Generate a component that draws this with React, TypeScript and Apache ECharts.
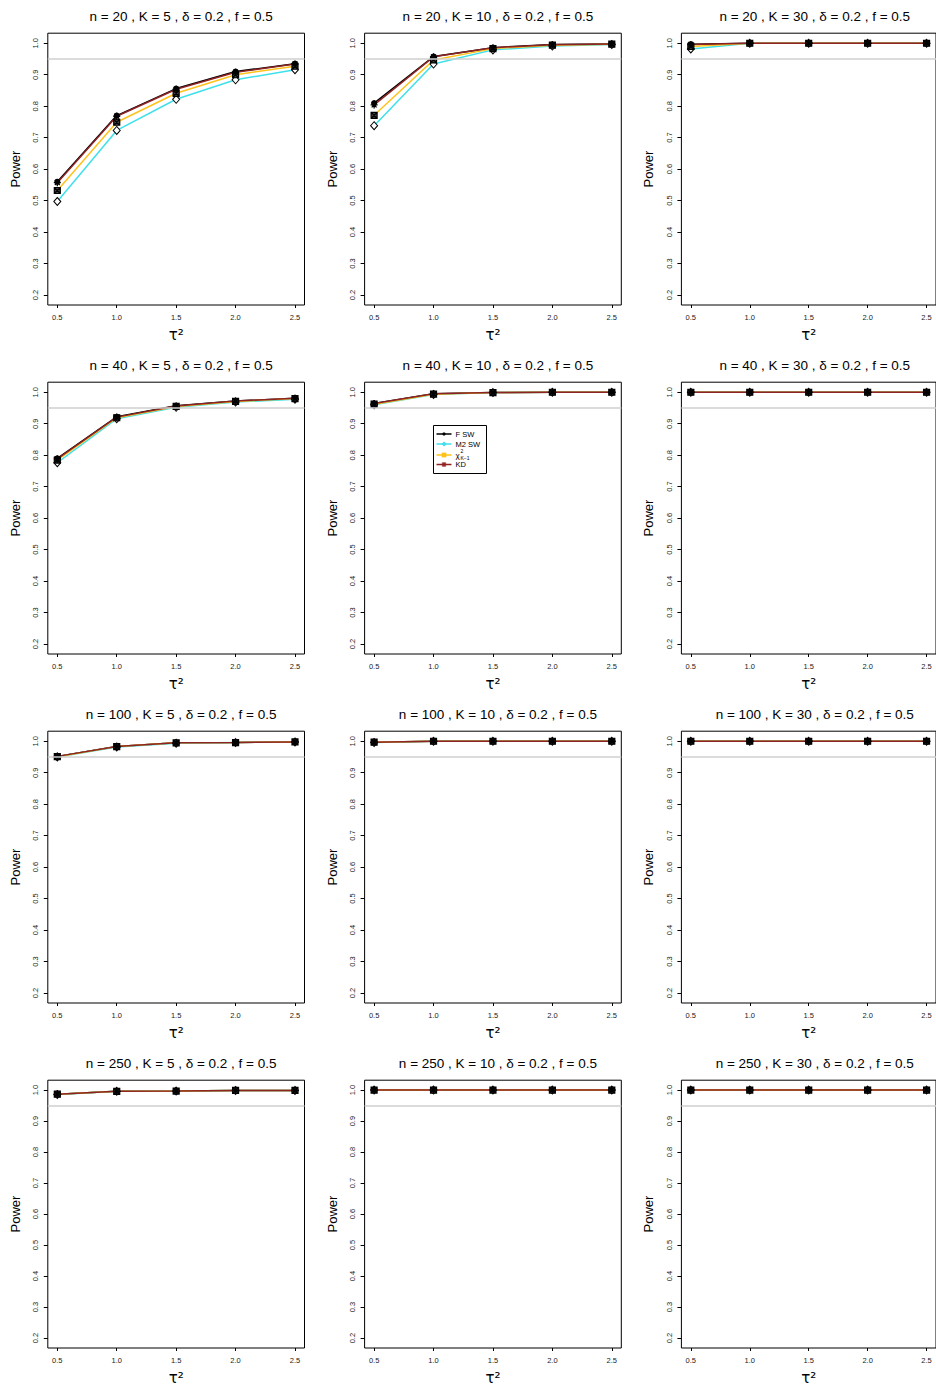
import React, { useEffect, useRef } from "react";
import * as echarts from "echarts";

const tau = [0.5, 1.0, 1.5, 2.0, 2.5];
const nValues = [20, 40, 100, 250];
const kValues = [5, 10, 30];
const yTicks = [0.2, 0.3, 0.4, 0.5, 0.6, 0.7, 0.8, 0.9, 1.0];
const xTicks = [0.5, 1.0, 1.5, 2.0, 2.5];
const refLevel = 0.95;

// rows of each array follow panels: (n=20,K=5),(20,10),(20,30),(40,5),...
const fSW = [
  [0.560, 0.770, 0.856, 0.910, 0.935],
  [0.810, 0.958, 0.986, 0.996, 0.998],
  [0.997, 1.0, 1.0, 1.0, 1.0],
  [0.790, 0.922, 0.957, 0.972, 0.981],
  [0.964, 0.995, 0.999, 1.0, 1.0],
  [1.0, 1.0, 1.0, 1.0, 1.0],
  [0.952, 0.983, 0.995, 0.996, 0.998],
  [0.997, 1.0, 1.0, 1.0, 1.0],
  [1.0, 1.0, 1.0, 1.0, 1.0],
  [0.987, 0.996, 0.997, 0.999, 0.999],
  [1.0, 1.0, 1.0, 1.0, 1.0],
  [1.0, 1.0, 1.0, 1.0, 1.0],
];
const m2SW = [
  [0.497, 0.723, 0.822, 0.884, 0.916],
  [0.738, 0.934, 0.979, 0.991, 0.996],
  [0.982, 1.0, 1.0, 1.0, 1.0],
  [0.776, 0.916, 0.952, 0.969, 0.978],
  [0.960, 0.993, 0.999, 1.0, 1.0],
  [1.0, 1.0, 1.0, 1.0, 1.0],
  [0.950, 0.982, 0.994, 0.996, 0.998],
  [0.996, 1.0, 1.0, 1.0, 1.0],
  [1.0, 1.0, 1.0, 1.0, 1.0],
  [0.986, 0.996, 0.997, 0.999, 0.999],
  [1.0, 1.0, 1.0, 1.0, 1.0],
  [1.0, 1.0, 1.0, 1.0, 1.0],
];
const chiSq = [
  [0.532, 0.749, 0.841, 0.900, 0.927],
  [0.771, 0.947, 0.983, 0.994, 0.997],
  [0.990, 1.0, 1.0, 1.0, 1.0],
  [0.784, 0.919, 0.955, 0.971, 0.980],
  [0.962, 0.994, 0.999, 1.0, 1.0],
  [1.0, 1.0, 1.0, 1.0, 1.0],
  [0.951, 0.983, 0.995, 0.996, 0.998],
  [0.997, 1.0, 1.0, 1.0, 1.0],
  [1.0, 1.0, 1.0, 1.0, 1.0],
  [0.987, 0.996, 0.997, 0.999, 0.999],
  [1.0, 1.0, 1.0, 1.0, 1.0],
  [1.0, 1.0, 1.0, 1.0, 1.0],
];
const kD = [
  [0.557, 0.768, 0.854, 0.908, 0.934],
  [0.804, 0.957, 0.986, 0.995, 0.998],
  [0.996, 1.0, 1.0, 1.0, 1.0],
  [0.788, 0.921, 0.956, 0.972, 0.981],
  [0.964, 0.995, 0.999, 1.0, 1.0],
  [1.0, 1.0, 1.0, 1.0, 1.0],
  [0.952, 0.983, 0.995, 0.996, 0.998],
  [0.997, 1.0, 1.0, 1.0, 1.0],
  [1.0, 1.0, 1.0, 1.0, 1.0],
  [0.987, 0.996, 0.997, 0.999, 0.999],
  [1.0, 1.0, 1.0, 1.0, 1.0],
  [1.0, 1.0, 1.0, 1.0, 1.0],
];

const COL_BLACK = "#000000";
const COL_CYAN = "#3EE0EA";
const COL_GOLD = "#FFC21A";
const COL_RED = "#8E2323";
const FONT = "Liberation Sans, Arial, sans-serif";

const SYM_BOXX = "path://M0,0L10,0L10,10L0,10Z M0,0L10,10 M10,0L0,10";
const SYM_STAR = "path://M5,0L5,10 M0,5L10,5 M1.5,1.5L8.5,8.5 M8.5,1.5L1.5,8.5";

export default function App() {
  const ref = useRef<HTMLDivElement>(null);
  useEffect(() => {
    if (!ref.current) return;
    const chart = echarts.init(ref.current, null, { renderer: "svg" });

    const colStep = 316.8;
    const rowStep = 349;
    const gLeft0 = 47.8;
    const gTop0 = 33.2;
    const gW = 256.7;
    const gH = 271.8;

    const grids: any[] = [];
    const xAxes: any[] = [];
    const yAxes: any[] = [];
    const titles: any[] = [];
    const series: any[] = [];
    const graphics: any[] = [];

    let idx = 0;
    nValues.forEach((n, r) => {
      kValues.forEach((k, c) => {
        const left = gLeft0 + colStep * c;
        const top = gTop0 + rowStep * r;
        grids.push({
          left,
          top,
          width: gW,
          height: gH,
          show: true,
          borderColor: "#000",
          borderWidth: 1,
          backgroundColor: "transparent",
        });
        xAxes.push({
          type: "value",
          gridIndex: idx,
          min: 0.42,
          max: 2.58,
          axisLine: { show: false },
          splitLine: { show: false },
          axisTick: { show: true, length: 3, customValues: xTicks, lineStyle: { color: "#000" } },
          axisLabel: {
            customValues: xTicks,
            formatter: (v: number) => v.toFixed(1),
            fontSize: 7.5,
            color: "#222",
            fontFamily: FONT,
            margin: 8,
          },
          name: "τ²",
          nameLocation: "middle",
          nameGap: 22,
          nameTextStyle: { fontSize: 15, fontFamily: "DejaVu Sans, sans-serif", color: "#000" },
        });
        yAxes.push({
          type: "value",
          gridIndex: idx,
          min: 0.168,
          max: 1.032,
          axisLine: { show: false },
          splitLine: { show: false },
          axisTick: { show: true, length: 4, customValues: yTicks, lineStyle: { color: "#000" } },
          axisLabel: {
            customValues: yTicks,
            formatter: (v: number) => v.toFixed(1),
            rotate: 90,
            fontSize: 7.5,
            color: "#222",
            fontFamily: FONT,
            margin: 8,
          },
          name: "Power",
          nameLocation: "middle",
          nameGap: 26,
          nameRotate: 90,
          nameTextStyle: { fontSize: 13, fontFamily: FONT, color: "#000" },
        });
        titles.push({
          text: `n = ${n} , K = ${k} , δ = 0.2 , f = 0.5`,
          left: left + gW / 2,
          top: 4 + rowStep * r,
          textAlign: "center",
          textStyle: { fontSize: 13.5, fontWeight: "normal", fontFamily: FONT, color: "#000" },
        });

        const mk = (vals: number[]) => tau.map((t, i) => [t, vals[i]]);
        series.push({
          type: "line",
          name: "F SW",
          xAxisIndex: idx,
          yAxisIndex: idx,
          data: mk(fSW[idx]),
          symbol: "circle",
          symbolSize: 6,
          lineStyle: { color: COL_BLACK, width: 1.5 },
          itemStyle: { color: "#000" },
          markLine: {
            silent: true,
            symbol: "none",
            label: { show: false },
            lineStyle: { color: "#cfcfcf", width: 1.5, type: "solid" },
            data: [{ yAxis: refLevel }],
          },
        });
        series.push({
          type: "line",
          name: "M2 SW",
          xAxisIndex: idx,
          yAxisIndex: idx,
          data: mk(m2SW[idx]),
          symbol: "diamond",
          symbolSize: [7, 8],
          lineStyle: { color: COL_CYAN, width: 1.5 },
          itemStyle: { color: "#fff", borderColor: "#000", borderWidth: 1 },
        });
        series.push({
          type: "line",
          name: "chi",
          xAxisIndex: idx,
          yAxisIndex: idx,
          data: mk(chiSq[idx]),
          symbol: SYM_BOXX,
          symbolSize: 6,
          lineStyle: { color: COL_GOLD, width: 1.5 },
          itemStyle: { color: "#444", borderColor: "#000", borderWidth: 1.2 },
        });
        series.push({
          type: "line",
          name: "KD",
          xAxisIndex: idx,
          yAxisIndex: idx,
          data: mk(kD[idx]),
          symbol: SYM_STAR,
          symbolSize: 7,
          lineStyle: { color: COL_RED, width: 1.5 },
          itemStyle: { color: "#000", borderColor: "#000", borderWidth: 1.3 },
        });
        idx++;
      });
    });

    // legend inside panel (n=40, K=10)
    const lx = 433.5;
    const ly = 425.5;
    const entries = [
      { label: "F SW", color: COL_BLACK, mark: "dot" },
      { label: "M2 SW", color: COL_CYAN, mark: "diamond" },
      { label: "", color: COL_GOLD, mark: "square" },
      { label: "KD", color: COL_RED, mark: "star" },
    ];
    graphics.push({
      type: "rect",
      shape: { x: lx, y: ly, width: 53, height: 48 },
      style: { fill: "#fff", stroke: "#000", lineWidth: 1 },
      z: 100,
    });
    const rowsY = [434, 444, 455, 464.5];
    entries.forEach((e, i) => {
      const y = rowsY[i];
      graphics.push({
        type: "line",
        shape: { x1: lx + 3, y1: y, x2: lx + 18, y2: y },
        style: { stroke: e.color, lineWidth: 1.5 },
        z: 101,
      });
      const cx = lx + 10.5;
      if (e.mark === "dot") {
        graphics.push({ type: "circle", shape: { cx, cy: y, r: 1.6 }, style: { fill: e.color }, z: 102 });
      } else if (e.mark === "diamond") {
        graphics.push({
          type: "polygon",
          shape: { points: [[cx, y - 2.6], [cx + 2.6, y], [cx, y + 2.6], [cx - 2.6, y]] },
          style: { fill: e.color },
          z: 102,
        });
      } else if (e.mark === "square") {
        graphics.push({ type: "rect", shape: { x: cx - 2.4, y: y - 2.4, width: 4.8, height: 4.8 }, style: { fill: e.color }, z: 102 });
      } else {
        const d = 2.6;
        [[-d, 0, d, 0], [0, -d, 0, d], [-1.9, -1.9, 1.9, 1.9], [1.9, -1.9, -1.9, 1.9]].forEach((s) =>
          graphics.push({
            type: "line",
            shape: { x1: cx + s[0], y1: y + s[1], x2: cx + s[2], y2: y + s[3] },
            style: { stroke: e.color, lineWidth: 1.2 },
            z: 102,
          })
        );
      }
      if (e.label) {
        graphics.push({
          type: "text",
          x: lx + 22,
          y,
          style: { text: e.label, fontSize: 7.5, fontFamily: FONT, fill: "#000", textVerticalAlign: "middle" },
          z: 102,
        });
      }
    });
    // chi-square label with stacked super/subscript
    graphics.push({
      type: "text",
      x: lx + 22,
      y: 455,
      style: { text: "χ", fontSize: 8, fontFamily: FONT, fill: "#000", textVerticalAlign: "middle" },
      z: 102,
    });
    graphics.push({
      type: "text",
      x: lx + 27,
      y: 450.5,
      style: { text: "2", fontSize: 5, fontFamily: FONT, fill: "#000", textVerticalAlign: "middle" },
      z: 102,
    });
    graphics.push({
      type: "text",
      x: lx + 27,
      y: 458,
      style: { text: "K−1", fontSize: 5, fontFamily: FONT, fill: "#000", textVerticalAlign: "middle" },
      z: 102,
    });

    chart.setOption({
      animation: false,
      backgroundColor: "#fff",
      title: titles,
      grid: grids,
      xAxis: xAxes,
      yAxis: yAxes,
      series,
      graphic: graphics,
    });
    return () => chart.dispose();
  }, []);
  return (
    <div
      ref={ref}
      style={{ position: "absolute", left: 0, top: 0, width: 936, height: 1386, background: "#fff" }}
    />
  );
}
